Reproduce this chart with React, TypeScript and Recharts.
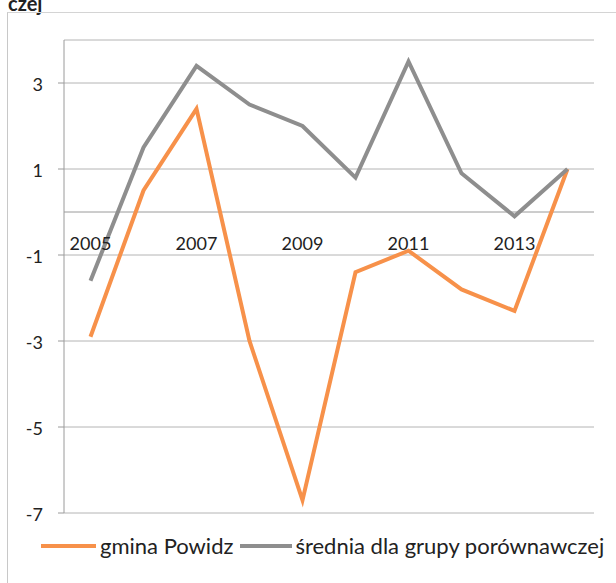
import React from 'react';
import {
    LineChart,
    Line,
    XAxis,
    YAxis,
    CartesianGrid,
    ReferenceLine,
    ReferenceDot
} from 'recharts';

const years = ['2005', '2006', '2007', '2008', '2009', '2010', '2011', '2012', '2013', '2014'];
const powidz = [-2.9, 0.5, 2.4, -3.0, -6.7, -1.4, -0.9, -1.8, -2.3, 1.0];
const srednia = [-1.6, 1.5, 3.4, 2.5, 2.0, 0.8, 3.5, 0.9, -0.1, 1.0];
const yTicks = [-7, -5, -3, -1, 1, 3];
const yearLabels = ['2005', '2007', '2009', '2011', '2013'];
const seriesNames = ['gmina Powidz', 'średnia dla grupy porównawczej'];

const ORANGE = '#F7914A';
const GRAY = '#8E8E8E';
const TEXT = '#222222';
const FONT = 'Lato, "Open Sans", sans-serif';

const data = years.map((year, i) => ({
    year,
    powidz: powidz[i],
    srednia: srednia[i]
}));

const LegendItem: React.FC<{ color: string; label: string; lineWidth: number; gap: number; after: number }> = ({ color, label, lineWidth, gap, after }) => (
    <div style={{ display: 'flex', alignItems: 'center', marginRight: after }}>
        <svg width={lineWidth} height={6} style={{ marginRight: gap }}>
            <line x1={0} y1={3} x2={lineWidth} y2={3} stroke={color} strokeWidth={4} />
        </svg>
        <span>{label}</span>
    </div>
);

export default function App() {
    return (
        <div
            style={{
                position: 'absolute',
                left: 0,
                top: 0,
                width: 616,
                height: 583,
                overflow: 'hidden',
                background: '#ffffff',
                fontFamily: FONT
            }}
        >
            {/* tail of the title, cut by the scan's top edge */}
            <span
                style={{
                    position: 'absolute',
                    left: 8,
                    top: -7,
                    fontSize: 20,
                    lineHeight: '20px',
                    fontWeight: 700,
                    color: TEXT
                }}
            >
                czej
            </span>
            {/* frame */}
            <div style={{ position: 'absolute', left: 7, top: 12, width: 609, height: 571, borderLeft: '1px solid #c8c8c8', borderTop: '1px solid #d4d4d4' }} />

            <div style={{ position: 'absolute', left: 0, top: 0 }}>
                <LineChart width={616} height={583} data={data} margin={{ top: 40, right: 22, bottom: 70, left: 0 }}>
                    <CartesianGrid horizontal vertical={false} stroke="#b4b4b4" strokeWidth={1} />
                    <XAxis dataKey="year" hide padding={{ left: 26.5, right: 26.5 }} />
                    <YAxis
                        width={64}
                        domain={[-7, 4]}
                        ticks={yTicks}
                        interval={0}
                        stroke="#9a9a9a"
                        tickSize={6}
                        tickMargin={15}
                        tick={{ fontSize: 18, fill: TEXT, fontFamily: FONT, dy: 2 }}
                    />
                    <ReferenceLine y={0} stroke="#9a9a9a" strokeWidth={1} />
                    <Line
                        type="linear"
                        dataKey="powidz"
                        name={seriesNames[0]}
                        stroke={ORANGE}
                        strokeWidth={4}
                        dot={false}
                        isAnimationActive={false}
                    />
                    <Line
                        type="linear"
                        dataKey="srednia"
                        name={seriesNames[1]}
                        stroke={GRAY}
                        strokeWidth={4}
                        dot={false}
                        isAnimationActive={false}
                    />
                    {yearLabels.map((y) => (
                        <ReferenceDot
                            key={y}
                            x={y}
                            y={0}
                            r={0}
                            fill="none"
                            stroke="none"
                            label={{ value: y, position: 'bottom', offset: 25, fontSize: 18, fill: TEXT, fontFamily: FONT }}
                        />
                    ))}
                </LineChart>
            </div>

            <div
                style={{
                    position: 'absolute',
                    left: 41,
                    top: 532,
                    display: 'flex',
                    alignItems: 'center',
                    fontSize: 22,
                    lineHeight: '27px',
                    color: TEXT,
                    whiteSpace: 'nowrap'
                }}
            >
                <LegendItem color={ORANGE} label={seriesNames[0]} lineWidth={55} gap={4} after={7} />
                <LegendItem color={GRAY} label={seriesNames[1]} lineWidth={52} gap={3} after={0} />
            </div>
        </div>
    );
}
